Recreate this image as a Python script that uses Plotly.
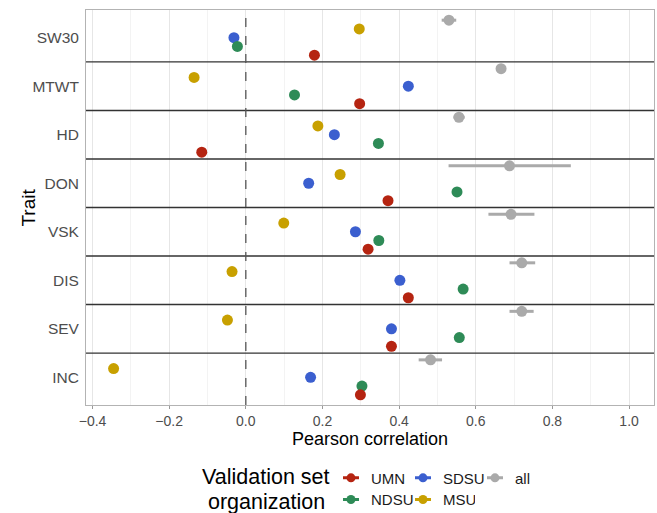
import plotly.graph_objects as go

traits = ["SW30", "MTWT", "HD", "DON", "VSK", "DIS", "SEV", "INC"]  # top to bottom
orgs = ["all", "MSU", "SDSU", "NDSU", "UMN"]  # top to bottom within a trait

all_r = [0.530, 0.666, 0.556, 0.688, 0.692, 0.720, 0.720, 0.482]
all_lo = [0.511, 0.660, 0.542, 0.529, 0.633, 0.688, 0.688, 0.451]
all_hi = [0.549, 0.672, 0.571, 0.848, 0.753, 0.755, 0.751, 0.512]
msu_r = [0.296, -0.135, 0.188, 0.246, 0.099, -0.036, -0.048, -0.345]
sdsu_r = [-0.031, 0.424, 0.231, 0.164, 0.286, 0.402, 0.380, 0.169]
ndsu_r = [-0.022, 0.127, 0.346, 0.551, 0.347, 0.567, 0.557, 0.303]
umn_r = [0.179, 0.297, -0.115, 0.371, 0.319, 0.424, 0.380, 0.299]

x_ticks = [-0.4, -0.2, 0.0, 0.2, 0.4, 0.6, 0.8, 1.0]

values = {"all": all_r, "MSU": msu_r, "SDSU": sdsu_r, "NDSU": ndsu_r, "UMN": umn_r}
colors = {"UMN": "#B52411", "SDSU": "#3B5FCF", "all": "#AAAAAA",
          "NDSU": "#2E8B57", "MSU": "#C8A000"}

n = len(traits)
ypos = {t: n - i for i, t in enumerate(traits)}  # SW30 -> 8, INC -> 1
dodge_w = 0.9
k = len(orgs)
offset = {o: dodge_w * ((k - 1) / 2 - j) / k for j, o in enumerate(orgs)}

FONT = "Liberation Sans, Arial, sans-serif"
fig = go.Figure()

draw_order = ["all", "MSU", "SDSU", "NDSU", "UMN"]
for o in draw_order:
    ys = [ypos[t] + offset[o] for t in traits]
    kw = {}
    if o == "all":
        kw["error_x"] = dict(type="data", symmetric=False,
                             array=[h - v for h, v in zip(all_hi, all_r)],
                             arrayminus=[v - l for l, v in zip(all_lo, all_r)],
                             color=colors[o], thickness=3, width=0)
    fig.add_trace(go.Scatter(x=values[o], y=ys, mode="markers",
                             marker=dict(color=colors[o], size=11),
                             showlegend=False, hoverinfo="x+y", **kw))

# legend-only entries: short line through a dot (like a pointrange key)
key_dash = "0px,7px,16px,100px"
row1 = ["UMN", "SDSU", "all"]
row2 = ["NDSU", "MSU"]
for leg, row in (("legend", row1), ("legend2", row2)):
    for o in row:
        fig.add_trace(go.Scatter(x=[None], y=[None], mode="lines+markers", name=o,
                                 line=dict(color=colors[o], width=3, dash=key_dash),
                                 marker=dict(color=colors[o], size=9), legend=leg))

shapes = []
for i in range(1, n):
    yb = i + 0.5
    shapes.append(dict(type="line", xref="paper", yref="y", x0=0, x1=1, y0=yb, y1=yb,
                       line=dict(color="#333333", width=1.4)))
shapes.append(dict(type="line", xref="x", yref="paper", x0=0, x1=0, y0=0, y1=1,
                   line=dict(color="#555555", width=1.3, dash="dash")))

legend_common = dict(orientation="h", xanchor="left", yanchor="middle",
                      font=dict(family=FONT, size=15, color="#1a1a1a"),
                      itemwidth=30, entrywidth=27, bgcolor="rgba(0,0,0,0)",
                      tracegroupgap=0)

fig.update_layout(
    width=657, height=513,
    margin=dict(l=86, r=3, t=10, b=108, autoexpand=False),
    plot_bgcolor="white", paper_bgcolor="white",
    font=dict(family=FONT),
    shapes=shapes,
    xaxis=dict(range=[-0.417, 1.065], tickvals=x_ticks,
               ticktext=[f"{v:.1f}".replace("-", "\u2212") for v in x_ticks],
               showgrid=True, gridcolor="#e6e6e6", gridwidth=1,
               minor=dict(dtick=0.1, tick0=0, showgrid=True, gridcolor="#f3f3f3", gridwidth=0.8),
               zeroline=False, showline=True, mirror=True, linecolor="#b3b3b3", linewidth=1,
               ticks="outside", ticklen=3, tickcolor="#999999",
               tickfont=dict(family=FONT, size=14, color="#4d4d4d"),
               title=dict(text="Pearson correlation", standoff=3,
                          font=dict(family=FONT, size=18, color="#000000"))),
    yaxis=dict(range=[0.43, 8.57], tickvals=[ypos[t] for t in traits], ticktext=traits,
               showgrid=False, zeroline=False, showline=True, mirror=True,
               linecolor="#b3b3b3", linewidth=1, ticks="", ticklabelstandoff=3,
               tickfont=dict(family=FONT, size=15.5, color="#4d4d4d")),
    legend=dict(x=0.4313, y=-0.185, **legend_common),
    legend2=dict(x=0.4313, y=-0.24, **legend_common),
    annotations=[
        dict(text="Trait", xref="paper", yref="paper", x=-0.102, y=0.5,
             xanchor="center", yanchor="middle", textangle=-90, showarrow=False,
             font=dict(family=FONT, size=19, color="#000000")),
        dict(text="Validation set", xref="paper", yref="paper",
             x=0.317, y=-0.183, xanchor="center", yanchor="middle", showarrow=False,
             font=dict(family=FONT, size=21.5, color="#000000")),
        dict(text="organization", xref="paper", yref="paper",
             x=0.317, y=-0.246, xanchor="center", yanchor="middle", showarrow=False,
             font=dict(family=FONT, size=21.5, color="#000000")),
    ],
)

fig.write_html("out.html")
